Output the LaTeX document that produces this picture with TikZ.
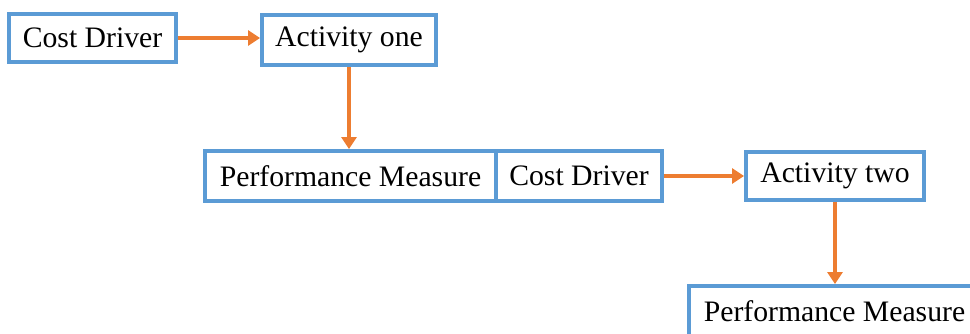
\documentclass[tikz,border=0pt]{standalone}
\usepackage{fontspec}
\setmainfont{Liberation Serif}
\usetikzlibrary{arrows.meta}
\definecolor{boxblue}{HTML}{5B9BD5}
\definecolor{arrorange}{HTML}{ED7D31}

\begin{document}
\begin{tikzpicture} [box/.style={draw=boxblue, line width=2.2pt, inner sep=0pt, font=\fontsize{16.9}{20}\selectfont},
 			      link/.style={draw=arrorange, line width=2.3pt, ->, >={Triangle[length=0.24cm, width=0.3cm]}}]
    \useasboundingbox (0,0) rectangle (19.4,-6.68);
    \node[box, minimum width=3.34cm, minimum height=0.96cm] (cdone) at (1.85,-0.76) {Cost Driver};
    \node[box, minimum width=3.48cm, minimum height=1.0cm] (actone) at (6.98,-0.8) {Activity one};
    \node[box, minimum width=5.82cm, minimum height=1.0cm] (pmone) at (7.01,-3.52) {Performance Measure};
    \node[box, minimum width=3.32cm, minimum height=1.0cm] (cdtwo) at (11.58,-3.52) {Cost Driver};
    \node[box, minimum width=3.56cm, minimum height=0.96cm] (acttwo) at (16.7,-3.52) {Activity two};
    \node[box, minimum width=5.82cm, minimum height=1.0cm] (pmtwo) at (16.69,-6.22) {Performance Measure};
    \draw[link] (cdone.east) -- (cdone.east -| actone.west);
    \draw[link] (actone.south) -- (actone.south |- pmone.north);
    \draw[link] (cdtwo.east) -- (acttwo.west);
    \draw[link] (acttwo.south) -- (acttwo.south |- pmtwo.north);
\end{tikzpicture}
\end{document}
